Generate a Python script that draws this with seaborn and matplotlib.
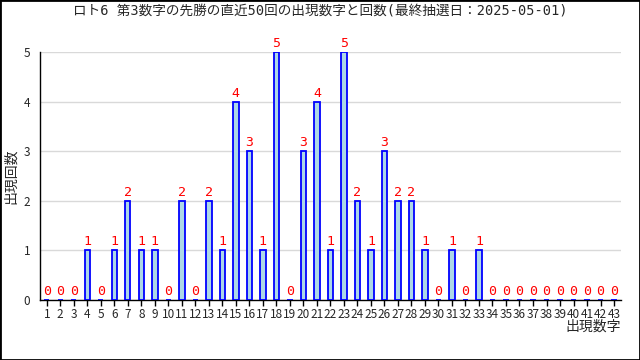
import numpy as np
import pandas as pd
import matplotlib
matplotlib.use("Agg")
import matplotlib.pyplot as plt
import seaborn as sns

# 出現数字と回数
numbers = list(range(1, 44))
counts = [0, 0, 0, 1, 0, 1, 2, 1, 1, 0,
          2, 0, 2, 1, 4, 3, 1, 5, 0, 3,
          4, 1, 5, 2, 1, 3, 2, 2, 1, 0,
          1, 0, 1, 0, 0, 0, 0, 0, 0, 0,
          0, 0, 0]
title = "ロト6 第3数字の先勝の直近50回の出現数字と回数(最終抽選日：2025-05-01)"

df = pd.DataFrame({"num": [str(n) for n in numbers], "count": counts})

sns.set_style("white")
plt.rcParams['font.family'] = ['Noto Sans CJK JP', 'DejaVu Sans']

fig = plt.figure(figsize=(6.4, 3.6), dpi=100)
ax = fig.add_axes([0.0625, 0.1667, 0.9075, 0.6889])

sns.barplot(data=df, x="num", y="count", order=df["num"], width=0.4,
            color="#ADD8E6", edgecolor="blue", linewidth=1.3, saturation=1,
            ax=ax, zorder=3)

# 棒の上に回数
for i, c in enumerate(counts):
    ax.text(i, c + 0.04, str(c), color="red", ha="center", va="bottom",
            fontsize=9.5, family=['DejaVu Sans Mono'], clip_on=False)

ax.set_xlim(-0.5, 42.5)
ax.set_ylim(0, 5)
ax.set_yticks(range(0, 6))
ax.yaxis.grid(True, color="#d9d9d9", linewidth=1, zorder=0)
ax.set_axisbelow(True)
for s in ["top", "right"]:
    ax.spines[s].set_visible(False)
for s in ["left", "bottom"]:
    ax.spines[s].set_color("black")
    ax.spines[s].set_linewidth(1)
ax.tick_params(axis="both", direction="out", length=4, width=1, color="black",
               labelsize=8.5, pad=1.5, left=True, bottom=True)
ax.tick_params(axis="y", length=0, pad=7)
ax.set_xlabel("出現数字", fontsize=10, loc="right", labelpad=-1)
ax.set_ylabel("出現回数", fontsize=10)
ax.yaxis.set_label_coords(-0.038, 0.5)
fig.text(0.5, 0.969, title, ha="center", va="center", fontsize=9.8,
         family=['DejaVu Sans Mono', 'Noto Sans CJK JP'])

fig.patches.append(plt.Rectangle((0, 0), 1, 1, transform=fig.transFigure,
                                 fill=False, edgecolor="black", linewidth=2))

fig.savefig("out.png", dpi=100)
